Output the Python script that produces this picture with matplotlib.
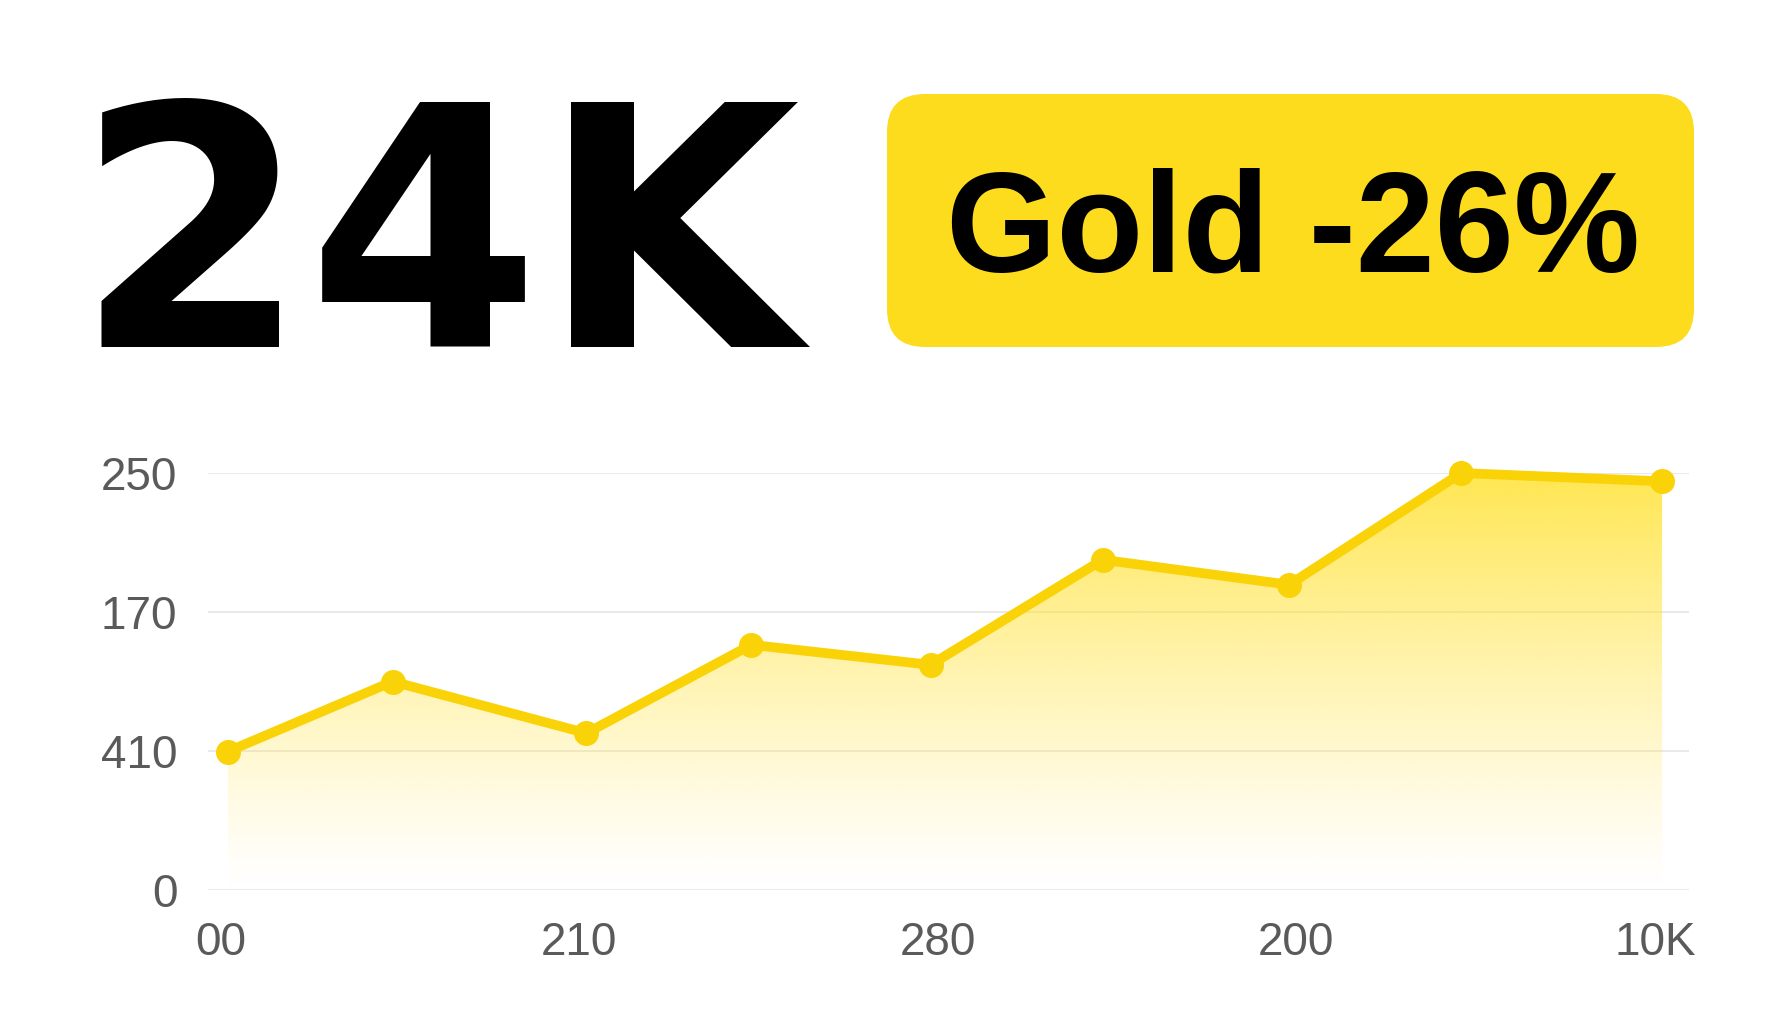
import numpy as np
import matplotlib.pyplot as plt
from matplotlib import font_manager
from matplotlib.patches import FancyBboxPatch, Polygon
from matplotlib.colors import to_rgb

W, H = 1792, 1024
DPI = 100

# values
x_ticks = [0, 1, 2, 3, 4]
x_labels = ["00", "210", "280", "200", "10K"]
y_ticks = [0, 83.3, 166.7, 250]
y_labels = ["0", "410", "170", "250"]
xs = [0.02, 0.48, 1.02, 1.48, 1.98, 2.46, 2.98, 3.46, 4.02]
ys = [83, 125, 94, 147, 135, 198, 183, 250, 245]

headline = "24K"
badge = "Gold -26%"

GOLD = "#F9D308"
BADGE = "#FDDC1E"
TICK = "#5a5a5a"
GRID = "#e9e9e9"

installed = {f.name for f in font_manager.fontManager.ttflist}
tick_font = "Liberation Sans Narrow" if "Liberation Sans Narrow" in installed else "Liberation Sans"
tick_size = 38 if tick_font == "Liberation Sans Narrow" else 33


def px(x, y):
    """pixel position (from top-left) -> figure fraction"""
    return x / W, 1 - y / H


def fit_text(fig, x, y, s, width, **kw):
    """place text with its left edge at x and baseline at y, scaled to width"""
    t = fig.text(*px(x, y), s, va="baseline", ha="left", **kw)
    t.set_fontsize(100)
    r = fig.canvas.get_renderer()
    bb = t.get_window_extent(r)
    t.set_fontsize(100 * width / bb.width)
    return t


fig = plt.figure(figsize=(W / DPI, H / DPI), dpi=DPI)
fig.patch.set_facecolor("white")

# headline
fit_text(fig, 74, 347, headline, 726,
         fontfamily="DejaVu Sans", fontweight="bold", color="black")

# badge
bx0, by0, bx1, by1 = 887, 94, 1694, 347
rad = 38
badge_box = FancyBboxPatch((bx0 + rad, H - by1 + rad), bx1 - bx0 - 2 * rad, by1 - by0 - 2 * rad,
                           boxstyle=f"round,pad={rad},rounding_size={rad}",
                           transform=None, facecolor=BADGE, edgecolor="none")
fig.patches.append(badge_box)
fit_text(fig, 946, 272, badge, 694,
         fontfamily="Liberation Sans", fontweight="bold", color="black")

# chart
left, right = 208, 1689
y0px, y250px = 890, 473
ax = fig.add_axes([left / W, 1 - y0px / H, (right - left) / W, (y0px - y250px) / H])
ax.set_xlim(-0.035, 4.095)
ax.set_ylim(0, 250)

# gradient fill under the line
verts = [(xs[0], 0)] + list(zip(xs, ys)) + [(xs[-1], 0)]
poly = Polygon(verts, closed=True, facecolor="none", edgecolor="none")
ax.add_patch(poly)
r, g, b = to_rgb("#FFE33A")
grad = np.zeros((256, 2, 4))
alpha = np.linspace(0.0, 0.9, 256) ** 1.2
grad[:, :, 0], grad[:, :, 1], grad[:, :, 2] = r, g, b
grad[:, :, 3] = alpha[:, None]
im = ax.imshow(grad, extent=[xs[0], xs[-1], 0, 250], origin="lower",
               aspect="auto", zorder=1)
im.set_clip_path(poly)

ax.plot(xs, ys, color=GOLD, lw=7, marker="o", ms=17, zorder=3,
        clip_on=False, solid_capstyle="round", solid_joinstyle="round")

ax.set_xticks(x_ticks, x_labels)
ax.set_yticks(y_ticks, y_labels)
ax.tick_params(length=0, labelsize=tick_size, labelcolor=TICK, pad=22)
for lab in ax.get_xticklabels() + ax.get_yticklabels():
    lab.set_fontfamily(tick_font)
ax.grid(axis="y", color=GRID, lw=1.5)
ax.set_axisbelow(True)
for s in ax.spines.values():
    s.set_visible(False)
ax.set_facecolor("none")

fig.savefig("out.png", dpi=DPI, facecolor="white")
